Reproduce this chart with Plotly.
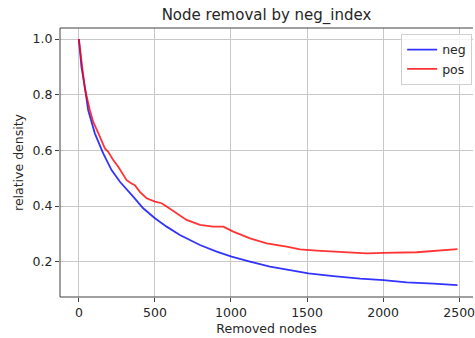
import plotly.graph_objects as go

# Relative density after removing nodes, ordered by neg_index
neg_removed = [0, 17, 39, 61, 105, 160, 215, 270, 357, 423, 500, 577, 664, 796, 906,
               1004, 1125, 1256, 1388, 1509, 1673, 1849, 2002, 2156, 2331, 2489]
neg_density = [1.0, 0.90, 0.829, 0.745, 0.661, 0.589, 0.529, 0.487, 0.434, 0.392, 0.356,
               0.326, 0.296, 0.260, 0.236, 0.218, 0.200, 0.182, 0.170, 0.158, 0.148,
               0.139, 0.134, 0.126, 0.121, 0.116]

pos_removed = [0, 22, 39, 72, 94, 138, 171, 193, 226, 259, 314, 346, 368, 401, 445, 500,
               544, 577, 643, 708, 796, 884, 950, 1015, 1125, 1235, 1366, 1454, 1564,
               1673, 1892, 2002, 2221, 2489]
pos_density = [1.0, 0.889, 0.823, 0.745, 0.703, 0.649, 0.607, 0.595, 0.565, 0.541, 0.493,
               0.481, 0.475, 0.451, 0.428, 0.416, 0.410, 0.398, 0.374, 0.350, 0.332,
               0.326, 0.326, 0.308, 0.284, 0.266, 0.254, 0.244, 0.240, 0.236, 0.230,
               0.232, 0.234, 0.245]

x_ticks = [0, 500, 1000, 1500, 2000, 2500]
y_ticks = [0.2, 0.4, 0.6, 0.8, 1.0]
y_tick_text = ["0.2", "0.4", "0.6", "0.8", "1.0"]

FONT = "DejaVu Sans"
TEXT = "#262626"
GRID = "#c8c8c8"
SPINE = "#404040"

fig = go.Figure()
fig.add_trace(go.Scatter(x=neg_removed, y=neg_density, mode="lines", name="neg",
                         line=dict(color="rgba(0,0,255,0.8)", width=1.8)))
fig.add_trace(go.Scatter(x=pos_removed, y=pos_density, mode="lines", name="pos",
                         line=dict(color="rgba(255,0,0,0.8)", width=1.8)))

axis_common = dict(showgrid=True, gridcolor=GRID, gridwidth=1, zeroline=False,
                   showline=False, ticks="outside", ticklen=4, tickcolor=SPINE,
                   ticklabeloverflow="allow",
                   tickfont=dict(family=FONT, size=12.5, color=TEXT))

fig.update_layout(
    width=475, height=338,
    margin=dict(l=60, r=0, t=28, b=41),
    paper_bgcolor="white", plot_bgcolor="white",
    font=dict(family=FONT, size=12.5, color=TEXT),
    title=dict(text="Node removal by neg_index", x=0.5, xref="paper",
               y=1 - 15 / 338, yref="container", yanchor="middle", xanchor="center",
               font=dict(family=FONT, size=15, color=TEXT)),
    xaxis=dict(range=[-124, 2591], tickvals=x_ticks,
               title=dict(text="Removed nodes", standoff=5,
                          font=dict(family=FONT, size=12.5, color=TEXT)),
               **axis_common),
    yaxis=dict(range=[0.0732, 1.0395], tickvals=y_ticks, ticktext=y_tick_text,
               title=dict(text="relative density", standoff=6,
                          font=dict(family=FONT, size=12.5, color=TEXT)),
               **axis_common),
    legend=dict(x=0.826, y=0.978, xanchor="left", yanchor="top",
                bgcolor="rgba(255,255,255,0.8)", bordercolor="#d0d0d0", borderwidth=1,
                font=dict(family=FONT, size=12.5, color=TEXT),
                itemwidth=30, tracegroupgap=0),
    showlegend=True,
)

# axes frame: left, bottom and top spines
for x0, y0, x1, y1 in [(0, 0, 0, 1), (0, 0, 1, 0), (0, 1, 1, 1)]:
    fig.add_shape(type="line", xref="paper", yref="paper", x0=x0, y0=y0, x1=x1, y1=y1,
                  line=dict(color=SPINE, width=1))

fig.write_html("out.html")
